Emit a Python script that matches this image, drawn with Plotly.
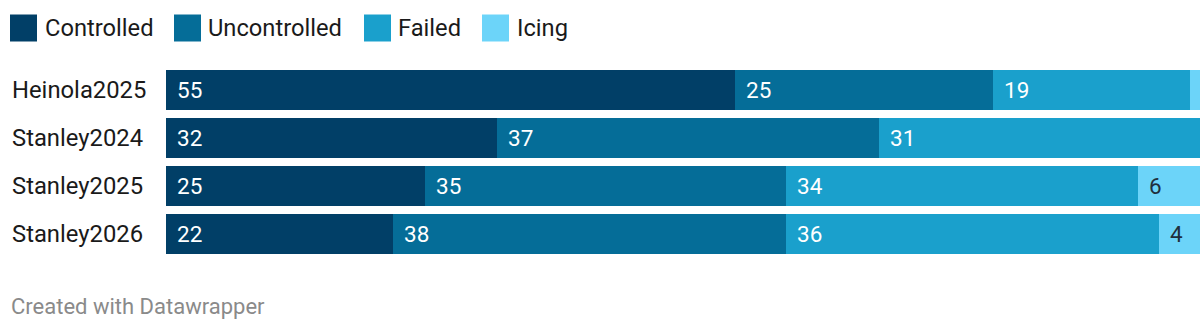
import plotly.graph_objects as go

# Share of outcomes per event (percent)
events = ["Heinola2025", "Stanley2024", "Stanley2025", "Stanley2026"]
series_names = ["Controlled", "Uncontrolled", "Failed", "Icing"]
controlled = [55, 32, 25, 22]
uncontrolled = [25, 37, 35, 38]
failed = [19, 31, 34, 36]
icing = [1, 0, 6, 4]

colors = ["#013f67", "#056d98", "#1aa0cc", "#6cd4f9"]
label_colors = ["#ffffff", "#ffffff", "#ffffff", "#1f2f3d"]

W, H = 1200, 330
L, R = 166, 0
T, B = 66, 72
plot_w = W - L - R
plot_h = H - T - B


def px_x(px):
    return (px - L) / plot_w


def px_y(py):
    return (H - B - py) / plot_h


values = [controlled, uncontrolled, failed, icing]
fig = go.Figure()
for name, vals, col in zip(series_names, values, colors):
    fig.add_trace(go.Bar(
        y=events, x=vals, name=name, orientation="h",
        marker=dict(color=col, line=dict(width=0)),
        hoverinfo="x+name", showlegend=False,
    ))

annotations = []
# Value labels inside each segment
for i, ev in enumerate(events):
    start = 0
    for s, vals in enumerate(values):
        v = vals[i]
        if v >= 3:
            annotations.append(dict(
                x=start, y=ev, xref="x", yref="y", text=str(v),
                xanchor="left", yanchor="middle", xshift=9, showarrow=False,
                font=dict(family="Roboto", size=22.5, color=label_colors[s]),
            ))
        start += v
    # Category label, left aligned
    annotations.append(dict(
        x=px_x(10), y=ev, xref="paper", yref="y", text=ev,
        xanchor="left", yanchor="middle", showarrow=False,
        font=dict(family="Roboto", size=23.8, color="#1a1a1a"),
    ))

# Legend row
shapes = []
legend_pos = [(10, 43), (174, 206), (364, 396), (482, 515)]
for (sx, tx), name, col in zip(legend_pos, series_names, colors):
    shapes.append(dict(
        type="rect", xref="paper", yref="paper",
        x0=px_x(sx), x1=px_x(sx + 27), y0=px_y(14.5), y1=px_y(41.5),
        fillcolor=col, line=dict(width=0), layer="above",
    ))
    annotations.append(dict(
        x=px_x(tx), y=px_y(28), xref="paper", yref="paper", text=name,
        xanchor="left", yanchor="middle", showarrow=False,
        font=dict(family="Roboto", size=23.7, color="#1a1a1a"),
    ))

# Footer
annotations.append(dict(
    x=px_x(9), y=px_y(306), xref="paper", yref="paper",
    text="Created with Datawrapper", xanchor="left", yanchor="middle",
    showarrow=False, font=dict(family="Roboto", size=22, color="#8a8a8a"),
))

fig.update_layout(
    barmode="stack",
    bargap=1 - 40 / 48,
    width=W, height=H,
    margin=dict(l=L, r=R, t=T, b=B, pad=0),
    paper_bgcolor="white", plot_bgcolor="white",
    xaxis=dict(range=[0, 100], visible=False, fixedrange=True),
    yaxis=dict(autorange="reversed", showticklabels=False, showgrid=False,
               zeroline=False, fixedrange=True),
    annotations=annotations,
    shapes=shapes,
    font=dict(family="Roboto"),
)

fig.write_html("out.html", config={"displayModeBar": False})
